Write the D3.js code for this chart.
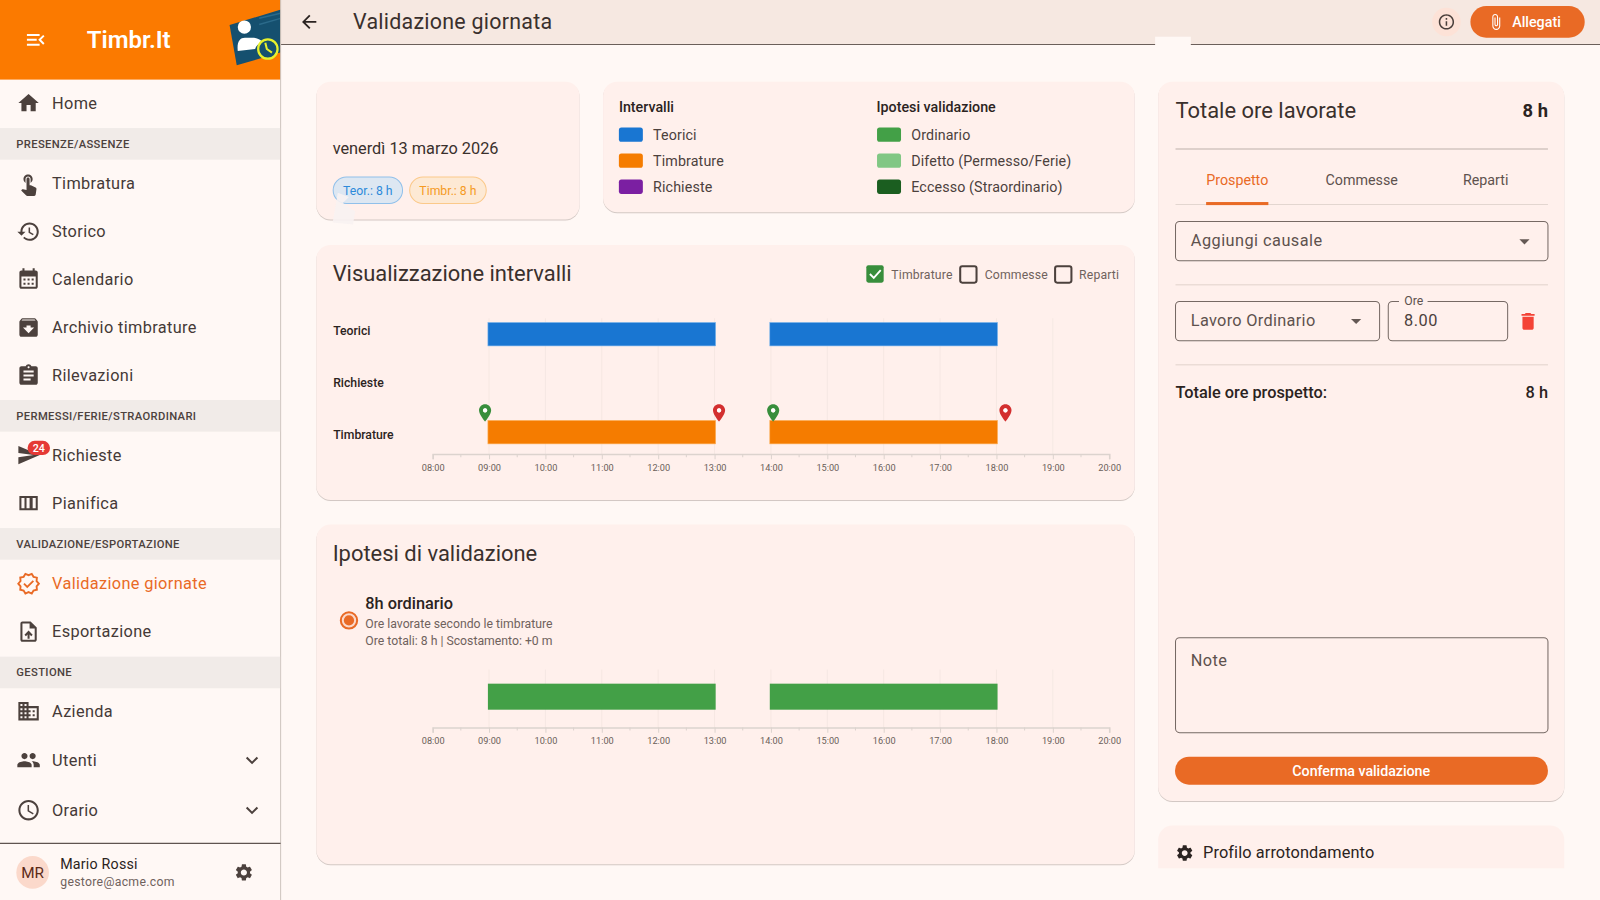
<!DOCTYPE html>
<html>
<head>
<meta charset="utf-8">
<script src="https://cdn.jsdelivr.net/npm/d3@7"></script>
<style>
  html, body { margin: 0; padding: 0; background: #fff8f5; overflow: hidden; }
  svg { display: block; font-family: Roboto, sans-serif; }
  .card { fill: #fff0ec; filter: drop-shadow(0 1px 0.6px rgba(70,50,40,.24)); }
  .flat { fill: #fff0ec; }
  .axis text { font-family: Roboto, sans-serif; font-size: 9px; fill: #6a5e59; }
  .axis path, .axis line { stroke: #dcd3ce; }
</style>
</head>
<body>
<div id="chart"></div>
<script>
// icons (24x24 material paths)
const icons = {
  home: "M10 20v-6h4v6h5v-8h3L12 3 2 12h3v8z",
  touch: "M9 11.24V7.5C9 6.12 10.12 5 11.5 5S14 6.12 14 7.5v3.74c1.21-.81 2-2.18 2-3.74C16 5.01 13.99 3 11.5 3S7 5.01 7 7.5c0 1.56.79 2.93 2 3.74zm9.84 4.63l-4.54-2.26c-.17-.07-.35-.11-.54-.11H13v-6c0-.83-.67-1.5-1.5-1.5S10 6.67 10 7.5v10.74l-3.43-.72c-.08-.01-.15-.03-.24-.03-.31 0-.59.13-.79.33l-.79.8 4.94 4.94c.27.27.65.44 1.06.44h6.79c.75 0 1.33-.55 1.44-1.28l.75-5.27c.01-.07.02-.14.02-.2 0-.62-.38-1.16-.91-1.38z",
  history: "M13 3c-4.97 0-9 4.03-9 9H1l3.89 3.89.07.14L9 12H6c0-3.87 3.13-7 7-7s7 3.13 7 7-3.13 7-7 7c-1.93 0-3.68-.79-4.94-2.06l-1.42 1.42C8.27 19.99 10.51 21 13 21c4.97 0 9-4.03 9-9s-4.03-9-9-9zm-1 5v5l4.28 2.54.72-1.21-3.5-2.08V8H12z",
  calendar: "M19 3h-1V1h-2v2H8V1H6v2H5c-1.1 0-2 .9-2 2v14c0 1.1.9 2 2 2h14c1.1 0 2-.9 2-2V5c0-1.1-.9-2-2-2zm0 16H5V9h14v10zM7 11h2v2H7zm4 0h2v2h-2zm4 0h2v2h-2zM7 15h2v2H7zm4 0h2v2h-2zm4 0h2v2h-2z",
  archive: "M20.54 5.23l-1.39-1.68C18.88 3.21 18.47 3 18 3H6c-.47 0-.88.21-1.16.55L3.46 5.23C3.17 5.57 3 6.02 3 6.5V19c0 1.1.9 2 2 2h14c1.1 0 2-.9 2-2V6.5c0-.48-.17-.93-.46-1.27zM12 17.5L6.5 12H10v-2h4v2h3.5L12 17.5zM5.12 5l.81-1h12l.94 1H5.12z",
  assignment: "M19 3h-4.18C14.4 1.84 13.3 1 12 1c-1.3 0-2.4.84-2.82 2H5c-1.1 0-2 .9-2 2v14c0 1.1.9 2 2 2h14c1.1 0 2-.9 2-2V5c0-1.1-.9-2-2-2zm-7 0c.55 0 1 .45 1 1s-.45 1-1 1-1-.45-1-1 .45-1 1-1zm2 14H7v-2h7v2zm3-4H7v-2h10v2zm0-4H7V7h10v2z",
  send: "M2.01 21L23 12 2.01 3 2 10l15 2-15 2z",
  columns: "M3 5v14h18V5H3zm5 12H5V7h3v10zm5 0h-3V7h3v10zm6 0h-3V7h3v10z",
  upload: "M14 2H6c-1.1 0-1.99.9-1.99 2L4 20c0 1.1.89 2 1.99 2H18c1.1 0 2-.9 2-2V8l-6-6zm4 18H6V4h7v5h5v11zM8 15.01l1.41 1.41L11 14.84V19h2v-4.16l1.59 1.59L16 15.01 12.01 11 8 15.01z",
  domain: "M12 7V3H2v18h20V7H12zM6 19H4v-2h2v2zm0-4H4v-2h2v2zm0-4H4V9h2v2zm0-4H4V5h2v2zm4 12H8v-2h2v2zm0-4H8v-2h2v2zm0-4H8V9h2v2zm0-4H8V5h2v2zm10 12h-8v-2h2v-2h-2v-2h2v-2h-2V9h8v10zm-2-8h-2v2h2v-2zm0 4h-2v2h2v-2z",
  people: "M16 11c1.66 0 2.99-1.34 2.99-3S17.66 5 16 5c-1.66 0-3 1.34-3 3s1.34 3 3 3zm-8 0c1.66 0 2.99-1.34 2.99-3S9.66 5 8 5C6.34 5 5 6.34 5 8s1.34 3 3 3zm0 2c-2.33 0-7 1.17-7 3.5V19h14v-2.5c0-2.33-4.67-3.5-7-3.5zm8 0c-.29 0-.62.02-.97.05 1.16.84 1.97 1.97 1.97 3.45V19h6v-2.5c0-2.33-4.67-3.5-7-3.5z",
  clock: "M11.99 2C6.47 2 2 6.48 2 12s4.47 10 9.99 10C17.52 22 22 17.52 22 12S17.52 2 11.99 2zM12 20c-4.42 0-8-3.58-8-8s3.58-8 8-8 8 3.58 8 8-3.58 8-8 8zm.5-13H11v6l5.25 3.15.75-1.23-4.5-2.67z",
  settings: "M19.14 12.94c.04-.3.06-.61.06-.94 0-.32-.02-.64-.07-.94l2.03-1.58c.18-.14.23-.41.12-.61l-1.92-3.32c-.12-.22-.37-.29-.59-.22l-2.39.96c-.5-.38-1.03-.7-1.62-.94l-.36-2.54c-.04-.24-.24-.41-.48-.41h-3.84c-.24 0-.43.17-.47.41l-.36 2.54c-.59.24-1.13.57-1.62.94l-2.39-.96c-.22-.08-.47 0-.59.22L2.74 8.87c-.12.21-.08.47.12.61l2.03 1.58c-.05.3-.09.63-.09.94s.02.64.07.94l-2.03 1.58c-.18.14-.23.41-.12.61l1.92 3.32c.12.22.37.29.59.22l2.39-.96c.5.38 1.03.7 1.62.94l.36 2.54c.05.24.24.41.48.41h3.84c.24 0 .44-.17.47-.41l.36-2.54c.59-.24 1.13-.56 1.62-.94l2.39.96c.22.08.47 0 .59-.22l1.92-3.32c.12-.22.07-.47-.12-.61l-2.01-1.58zM12 15.6c-1.98 0-3.6-1.62-3.6-3.6s1.62-3.6 3.6-3.6 3.6 1.62 3.6 3.6-1.62 3.6-3.6 3.6z",
  trash: "M6 19c0 1.1.9 2 2 2h8c1.1 0 2-.9 2-2V7H6v12zM19 4h-3.5l-1-1h-5l-1 1H5v2h14V4z",
  back: "M20 11H7.83l5.59-5.59L12 4l-8 8 8 8 1.41-1.41L7.83 13H20v-2z",
  info: "M11 7h2v2h-2zm0 4h2v6h-2zm1-9C6.48 2 2 6.48 2 12s4.48 10 10 10 10-4.48 10-10S17.52 2 12 2zm0 18c-4.41 0-8-3.59-8-8s3.59-8 8-8 8 3.59 8 8-3.59 8-8 8z",
  attach: "M16.5 6v11.5c0 2.21-1.79 4-4 4s-4-1.79-4-4V5c0-1.38 1.12-2.5 2.5-2.5s2.5 1.12 2.5 2.5v10.5c0 .55-.45 1-1 1s-1-.45-1-1V6H10v9.5c0 1.38 1.12 2.5 2.5 2.5s2.5-1.12 2.5-2.5V5c0-2.21-1.79-4-4-4S7 2.79 7 5v12.5c0 3.04 2.46 5.5 5.5 5.5s5.5-2.46 5.5-5.5V6h-1.5z",
  menu: "M3 18h13v-2H3v2zm0-5h10v-2H3v2zm0-7v2h13V6H3zm18 9.59L17.42 12 21 8.41 19.59 7l-5 5 5 5L21 15.59z",
  more: "M16.59 8.59L12 13.17 7.41 8.59 6 10l6 6 6-6z",
  pin: "M12 2C8.13 2 5 5.13 5 9c0 5.25 7 13 7 13s7-7.75 7-13c0-3.87-3.13-7-7-7zm0 9.5c-1.38 0-2.5-1.12-2.5-2.5s1.12-2.5 2.5-2.5 2.5 1.12 2.5 2.5-1.12 2.5-2.5 2.5z",
  badge: "M23 12l-2.44-2.79.34-3.69-3.61-.82-1.89-3.2L12 2.96 8.6 1.5 6.71 4.69 3.1 5.5l.34 3.7L1 12l2.44 2.79-.34 3.7 3.61.82L8.6 22.5l3.4-1.47 3.4 1.46 1.89-3.19 3.61-.82-.34-3.69L23 12z"
};

// sidebar
const navItems = [
  { label: "Home", icon: "home", y: 101 },
  { label: "Timbratura", icon: "touch", y: 180 },
  { label: "Storico", icon: "history", y: 227 },
  { label: "Calendario", icon: "calendar", y: 274 },
  { label: "Archivio timbrature", icon: "archive", y: 321 },
  { label: "Rilevazioni", icon: "assignment", y: 368 },
  { label: "Richieste", icon: "send", y: 446 },
  { label: "Pianifica", icon: "columns", y: 493 },
  { label: "Esportazione", icon: "upload", y: 619 },
  { label: "Azienda", icon: "domain", y: 697 },
  { label: "Utenti", icon: "people", y: 745, more: true },
  { label: "Orario", icon: "clock", y: 794, more: true }
];
const navSections = [
  { label: "PRESENZE/ASSENZE", y: 141 },
  { label: "PERMESSI/FERIE/STRAORDINARI", y: 407.5 },
  { label: "VALIDAZIONE/ESPORTAZIONE", y: 533 },
  { label: "GESTIONE", y: 659 }
];

// legend
const legendIntervals = [
  { label: "Teorici", color: "#1976d2" },
  { label: "Timbrature", color: "#f57c00" },
  { label: "Richieste", color: "#7b1fa2" }
];
const legendHypotheses = [
  { label: "Ordinario", color: "#43a047" },
  { label: "Difetto (Permesso/Ferie)", color: "#81c784" },
  { label: "Eccesso (Straordinario)", color: "#1b5e20" }
];

// chart values, hours of the day
const hourTicks = d3.range(8, 21);
const halfTicks = d3.range(8.5, 20, 1);
const rowNames = ["Teorici", "Richieste", "Timbrature"];
const teoriciIntervals = [[8.98, 13.02], [13.98, 18.02]];
const richiesteIntervals = [];
const timbratureIntervals = [[8.98, 13.02], [13.98, 18.02]];
const ordinarioIntervals = [[8.98, 13.02], [13.98, 18.02]];
const punchIn = [8.93, 14.04];
const punchOut = [13.08, 18.16];

const accent = "#e96a25", ink = "#2b2321", soft = "#4e4340", muted = "#6f625d";

const svg = d3.select("#chart").append("svg")
  .attr("width", 1600).attr("height", 900)
  .attr("viewBox", "0 0 1568 882");

function txt(parent, x, y, s, size, fill, opts) {
  opts = opts || {};
  return parent.append("text")
    .attr("x", x).attr("y", y)
    .attr("dy", "0.35em")
    .attr("font-size", size)
    .attr("fill", fill)
    .attr("font-weight", opts.weight || 400)
    .attr("text-anchor", opts.anchor || "start")
    .attr("letter-spacing", opts.spacing || 0)
    .text(s);
}

function icon(parent, name, cx, cy, size, fill) {
  const k = size / 24;
  return parent.append("path")
    .attr("d", icons[name])
    .attr("transform", `translate(${cx - size / 2},${cy - size / 2}) scale(${k})`)
    .attr("fill", fill);
}

function card(x, y, w, h, cls) {
  svg.append("rect").attr("class", cls || "card")
    .attr("x", x).attr("y", y).attr("width", w).attr("height", h).attr("rx", 14);
}

function field(x, y, w, h) {
  svg.append("rect").attr("x", x + .5).attr("y", y + .5)
    .attr("width", w).attr("height", h).attr("rx", 4)
    .attr("fill", "none").attr("stroke", "#766964").attr("stroke-width", 1);
}

function caret(cx, cy) {
  svg.append("path").attr("d", d3.line()([[cx - 5, cy - 2.5], [cx + 5, cy - 2.5], [cx, cy + 2.5]]) + "Z")
    .attr("fill", "#645854");
}

function hr(x1, x2, y, color, width) {
  svg.append("line").attr("x1", x1).attr("x2", x2).attr("y1", y).attr("y2", y)
    .attr("stroke", color).attr("stroke-width", width || 1);
}

// page background + top bar
svg.append("rect").attr("width", 1568).attr("height", 882).attr("fill", "#fff8f5");
svg.append("rect").attr("x", 275).attr("width", 1293).attr("height", 43.5).attr("fill", "#f6e8e1");
hr(275, 1568, 43.5, "#6b5f5a", 1);
svg.append("rect").attr("x", 1132).attr("y", 36).attr("width", 35).attr("height", 9).attr("fill", "#fff8f5");
icon(svg, "back", 303, 21.5, 21, ink);
txt(svg, 346, 21.5, "Validazione giornata", 21, "#3a302d", { spacing: 0.25 });
svg.append("circle").attr("cx", 1417.5).attr("cy", 21.5).attr("r", 14).attr("fill", "#fde2d7");
icon(svg, "info", 1417.5, 21.5, 18, "#4a3f3b");
svg.append("rect").attr("x", 1441).attr("y", 6).attr("width", 112).attr("height", 31).attr("rx", 15.5).attr("fill", accent);
icon(svg, "attach", 1466, 21.5, 17, "#fff");
txt(svg, 1482, 21.5, "Allegati", 14, "#fff", { weight: 500 });

// sidebar
svg.append("rect").attr("width", 275).attr("height", 78).attr("fill", "#fb7a00");
icon(svg, "menu", 35, 39, 23, "#fff");
txt(svg, 85, 39, "Timbr.It", 23.5, "#fff", { weight: 600 });

const logo = svg.append("g");
logo.append("clipPath").attr("id", "logoClip").append("rect").attr("width", 275).attr("height", 78);
const logoIn = logo.append("g").attr("clip-path", "url(#logoClip)");
logoIn.append("path").attr("d", d3.line()([[225, 24.5], [232, 64], [290, 47], [283, 7]]) + "Z")
  .attr("fill", "#15506f");
logoIn.append("circle").attr("cx", 239.5).attr("cy", 26.5).attr("r", 6.5).attr("fill", "#fff");
logoIn.append("path").attr("d", "M233 50c-1-9 2-13 7-13h7c4 0 7 1 10 4c-4 2-6 4-7 7z").attr("fill", "#fff");
logoIn.append("circle").attr("cx", 262.5).attr("cy", 48).attr("r", 9.5).attr("fill", "#15506f").attr("stroke", "#e7f02c").attr("stroke-width", 2.2);
logoIn.append("path").attr("d", "M260 42l1.5 6l5 3.5").attr("fill", "none").attr("stroke", "#e7f02c").attr("stroke-width", 2);
logoIn.append("path").attr("d", "M254 18l21-5M254 24l21-6").attr("stroke", "#2b6a8a").attr("stroke-width", 1.5);

svg.append("line").attr("x1", 275).attr("x2", 275).attr("y1", 0).attr("y2", 882).attr("stroke", "#cfc4bf");

navSections.forEach(d => {
  svg.append("rect").attr("y", d.y - 15.5).attr("width", 274.5).attr("height", 31).attr("fill", "#f1ebe8");
  txt(svg, 16, d.y, d.label, 11, "#4c413d", { weight: 500, spacing: 0.35 });
});

navItems.forEach(d => {
  icon(svg, d.icon, 28, d.y, 24, "#4c413d");
  txt(svg, 51, d.y, d.label, 16, "#453a37", { spacing: 0.35 });
  if (d.more) icon(svg, "more", 247, d.y, 24, "#4c413d");
});

// active item
icon(svg, "badge", 28, 572, 22, "none").attr("stroke", accent).attr("stroke-width", 2);
svg.append("path").attr("d", "M23.5 572l3.2 3.2 6-6").attr("fill", "none").attr("stroke", accent).attr("stroke-width", 1.8);
txt(svg, 51, 572, "Validazione giornate", 16, accent, { spacing: 0.35 });

// notification badge
svg.append("rect").attr("x", 27).attr("y", 432).attr("width", 22).attr("height", 14).attr("rx", 7).attr("fill", "#e53935");
txt(svg, 38, 439, "24", 10.5, "#fff", { anchor: "middle", weight: 500 });

hr(0, 275, 826.5, "#5f5450", 1);
svg.append("circle").attr("cx", 32).attr("cy", 855).attr("r", 16).attr("fill", "#fbd9cb");
txt(svg, 32, 855, "MR", 15, "#5c2a18", { anchor: "middle" });
txt(svg, 59, 847, "Mario Rossi", 14, ink, { weight: 400, spacing: 0.2 });
txt(svg, 59, 864, "gestore@acme.com", 12, muted, { spacing: 0.3 });
icon(svg, "settings", 239, 855, 20, "#4c413d");

// date card
card(310, 80, 258, 135);
txt(svg, 326, 145, "venerdì 13 marzo 2026", 16, "#3a302d");
svg.append("rect").attr("x", 326.5).attr("y", 173.5).attr("width", 68).attr("height", 26).attr("rx", 13)
  .attr("fill", "#dde7f2").attr("stroke", "#90c0ea");
txt(svg, 360.5, 186.5, "Teor.: 8 h", 12, "#2d8ada", { anchor: "middle" });
svg.append("rect").attr("x", 401.5).attr("y", 173.5).attr("width", 75).attr("height", 26).attr("rx", 13)
  .attr("fill", "#fde9d4").attr("stroke", "#fbc98a");
txt(svg, 439, 186.5, "Timbr.: 8 h", 12, "#f59a23", { anchor: "middle" });
svg.append("path").attr("d", "M331 189l11 4l-6 6l12 8l-2 13l-20-2z").attr("fill", "#f8f2f2").attr("opacity", .9);

// legend card
card(591, 80, 521, 128);
txt(svg, 606.5, 105, "Intervalli", 14, ink, { weight: 500 });
txt(svg, 859, 105, "Ipotesi validazione", 14, ink, { weight: 500 });
function legendColumn(items, x) {
  svg.append("g").selectAll("rect").data(items).join("rect")
    .attr("x", x + .5).attr("y", (d, i) => 125 + i * 25.5)
    .attr("width", 23.5).attr("height", 14).attr("rx", 2.5)
    .attr("fill", d => d.color);
  svg.append("g").selectAll("text").data(items).join("text")
    .attr("x", x + 34).attr("y", (d, i) => 132 + i * 25.5)
    .attr("dy", "0.35em").attr("font-size", 14).attr("fill", "#4c413d")
    .attr("letter-spacing", .12)
    .text(d => d.label);
}
legendColumn(legendIntervals, 606);
legendColumn(legendHypotheses, 859);

// shared time scale
const x = d3.scaleLinear().domain([8, 20]).range([424, 1087]);

function timeAxis(y) {
  const g = svg.append("g").attr("class", "axis").attr("transform", `translate(0,${y})`)
    .call(d3.axisBottom(x).tickValues(hourTicks)
      .tickFormat(h => String(h).padStart(2, "0") + ":00")
      .tickSizeOuter(0).tickSize(5).tickPadding(5));
  g.select(".domain").attr("stroke-width", 1.5);
  g.selectAll(".minor").data(halfTicks).join("line").attr("class", "minor")
    .attr("x1", d => x(d)).attr("x2", d => x(d)).attr("y1", 0).attr("y2", 3);
}

function gridLines(y1, y2) {
  svg.append("g").selectAll("line").data(hourTicks.slice(1, -1)).join("line")
    .attr("x1", d => x(d)).attr("x2", d => x(d)).attr("y1", y1).attr("y2", y2)
    .attr("stroke", "#f6e8e3").attr("stroke-width", 1);
}

function intervalBars(data, y, h, fill, stroke) {
  svg.append("g").selectAll("rect").data(data).join("rect")
    .attr("x", d => x(d[0])).attr("width", d => x(d[1]) - x(d[0]))
    .attr("y", y).attr("height", h)
    .attr("fill", fill).attr("stroke", stroke).attr("stroke-width", .6);
}

// intervals card
card(310, 240, 802, 250);
txt(svg, 326, 268, "Visualizzazione intervalli", 21.5, "#3a302d");

// checkboxes
svg.append("rect").attr("x", 849).attr("y", 260).attr("width", 17).attr("height", 17).attr("rx", 2).attr("fill", "#388e3c");
svg.append("path").attr("d", "M852.5 268.5l3.8 3.8l6.8-7.5").attr("fill", "none").attr("stroke", "#fff").attr("stroke-width", 1.8);
txt(svg, 873.5, 269, "Timbrature", 12, muted, { spacing: 0.15 });
[[941, "Commesse", 965], [1034, "Reparti", 1057.5]].forEach(d => {
  svg.append("rect").attr("x", d[0]).attr("y", 261).attr("width", 16).attr("height", 16).attr("rx", 2)
    .attr("fill", "none").attr("stroke", "#4c413d").attr("stroke-width", 2);
  txt(svg, d[2], 269, d[1], 12, muted, { spacing: 0.15 });
});

const rowY = d3.scalePoint().domain(rowNames).range([324, 426]);
svg.append("g").selectAll("text").data(rowNames).join("text")
  .attr("x", 326.5).attr("y", d => rowY(d)).attr("dy", "0.35em")
  .attr("font-size", 12).attr("font-weight", 500).attr("fill", ink)
  .text(d => d);

gridLines(312, 445);
intervalBars(teoriciIntervals, rowY("Teorici") - 8, 23, "#1976d2", "#7fb8ec");
intervalBars(richiesteIntervals, rowY("Richieste") - 8, 23, "#7b1fa2", "none");
intervalBars(timbratureIntervals, rowY("Timbrature") - 14, 23, "#f57c00", "#fcb25e");
timeAxis(445);

// punch markers
function pins(values, color) {
  svg.append("g").selectAll("path").data(values).join("path")
    .attr("d", icons.pin)
    .attr("transform", d => `translate(${x(d) - 10.2},${394.5}) scale(0.85)`)
    .attr("fill", color);
  svg.append("g").selectAll("circle").data(values).join("circle")
    .attr("cx", d => x(d)).attr("cy", 402.2).attr("r", 2).attr("fill", "#fff");
}
pins(punchIn, "#388e3c");
pins(punchOut, "#d32f2f");

// hypotheses card
card(310, 514, 802, 333);
txt(svg, 326, 542, "Ipotesi di validazione", 21.5, "#3a302d");
svg.append("circle").attr("cx", 342).attr("cy", 608).attr("r", 8).attr("fill", "#fbd9cb").attr("stroke", accent).attr("stroke-width", 2);
svg.append("circle").attr("cx", 342).attr("cy", 608).attr("r", 5).attr("fill", accent);
txt(svg, 358, 591, "8h ordinario", 16, ink, { weight: 500 });
txt(svg, 358, 611, "Ore lavorate secondo le timbrature", 12, muted);
txt(svg, 358, 628, "Ore totali: 8 h | Scostamento: +0 m", 12, muted);

gridLines(656, 713);
intervalBars(ordinarioIntervals, 670, 25.5, "#43a047", "none");
timeAxis(713);

// right column
card(1135, 80, 398, 705);
txt(svg, 1152, 108, "Totale ore lavorate", 21.5, "#3a302d");
txt(svg, 1517, 108, "8 h", 18, ink, { weight: 700, anchor: "end" });
hr(1152, 1517, 146, "#d3c6c0", 1.5);

txt(svg, 1212.5, 176, "Prospetto", 14, accent, { anchor: "middle" });
txt(svg, 1334.5, 176, "Commesse", 14, "#5e524e", { anchor: "middle" });
txt(svg, 1456, 176, "Reparti", 14, "#5e524e", { anchor: "middle" });
hr(1152, 1517, 200.5, "#e3d6d0", 1);
svg.append("rect").attr("x", 1182).attr("y", 198).attr("width", 61).attr("height", 3).attr("fill", accent);

field(1151.5, 216.5, 365, 38.5);
txt(svg, 1167, 235.5, "Aggiungi causale", 16, "#5e524e", { spacing: 0.45 });
caret(1494, 237);
hr(1152, 1517, 279, "#ebdcd6", 1.5);

field(1151.5, 295, 200, 38.5);
txt(svg, 1167, 314, "Lavoro Ordinario", 16, "#5e524e", { spacing: 0.3 });
caret(1329, 315);
field(1360, 295, 117, 38.5);
svg.append("rect").attr("x", 1371).attr("y", 291).attr("width", 28).attr("height", 8).attr("fill", "#fff0ec");
txt(svg, 1385.5, 295, "Ore", 12, "#5e524e", { anchor: "middle" });
txt(svg, 1376, 314, "8.00", 16, "#4c413d", { spacing: 0.5 });
icon(svg, "trash", 1497.5, 315, 22, "#f44336");
hr(1152, 1517, 357.5, "#ebdcd6", 1.5);

txt(svg, 1152, 384, "Totale ore prospetto:", 16, ink, { weight: 500 });
txt(svg, 1517, 384, "8 h", 16, ink, { weight: 500, anchor: "end" });

field(1151.5, 624.5, 365, 93);
txt(svg, 1167, 647, "Note", 16, "#5e524e", { spacing: 0.4 });

svg.append("rect").attr("x", 1151.5).attr("y", 741.5).attr("width", 365.5).attr("height", 27.5).attr("rx", 13.75).attr("fill", accent);
txt(svg, 1334, 755.5, "Conferma validazione", 14, "#fff", { anchor: "middle", weight: 500, spacing: -0.05 });

// cut-off profile card
svg.append("path")
  .attr("d", "M1135 851V823a14 14 0 0 1 14-14H1519a14 14 0 0 1 14 14V851Z")
  .attr("class", "flat");
icon(svg, "settings", 1161, 836, 19, ink);
txt(svg, 1179, 835.5, "Profilo arrotondamento", 16, ink, { weight: 400, spacing: 0.1 });
</script>
</body>
</html>
